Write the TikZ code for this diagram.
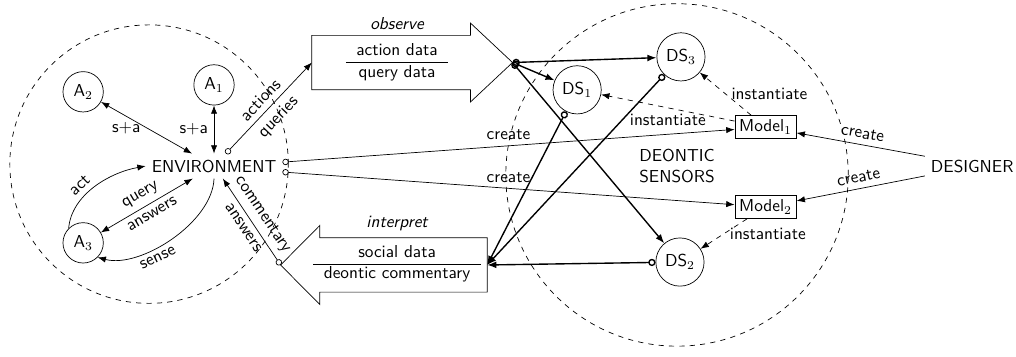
\documentclass[tikz,border=0pt]{standalone}
\usetikzlibrary{arrows.meta}
\renewcommand{\familydefault}{\sfdefault}

\begin{document}
\begin{tikzpicture}[
	agent/.style = {draw, circle, minimum size=0.82cm, inner sep=0pt},
	sensor/.style = {draw, circle, minimum size=0.98cm, inner sep=0pt},
	model/.style = {draw, rectangle, inner sep=2.5pt},
	area/.style = {dashed},
	flow/.style = {-{Latex}},
	both/.style = {{Latex}-{Latex}},
	port/.style = {{Circle[open]}-{Latex}},
	bigarrow/.style = {minimum width=#1, minimum height=1.09cm, inner sep=0pt}]

	\useasboundingbox (0,0) rectangle (20.65,7.236);

	\def \head {0.25} % how far the arrow heads stick out of the box

	% the two regions
	\draw[area] (3.03,3.90) circle (2.83cm);
	\draw[area] (13.76,3.68) circle (3.48cm);

	% agents and their environment
	\node (env) at (4.35,3.86) {ENVIRONMENT};
	\node[agent] (a1) at (4.35,5.51) {A$_1$};
	\node[agent] (a2) at (1.69,5.37) {A$_2$};
	\node[agent] (a3) at (1.69,2.30) {A$_3$};

	\draw[both] (a1) -- node[left] {s+a} (env);
	\draw[both] (a2) -- node[left] {s+a} (env);
	\draw[both] (a3) -- node[sloped, above] {query} node[sloped, below] {answers} (env);
	\draw[flow] (a3.135) to[out=85, in=190, looseness=0.9] node[pos=0.4, sloped, above] {act} (env.west);
	\draw[flow] (env.south) to[out=-92, in=-15, looseness=0.8] node[pos=0.62, sloped, below] {sense} (a3.-45);

	% observe
	\node[bigarrow=3.21cm] (obsbox) at (7.95,5.965) {};
	\coordinate (obstip) at ([xshift=0.855cm]obsbox.east);
	\draw (obsbox.north west) -- (obsbox.north east) -- ++(0,\head) -- (obstip)
		-- ([yshift=-\head cm]obsbox.south east) -- (obsbox.south east) -- (obsbox.south west) -- cycle;
	\node (obstext) at (8.07,5.97) {\begin{tabular}{c} action data\\ \hline query data\end{tabular}};
	\node[font=\itshape] (obslabel) at (8.07,6.75) {observe};

	% interpret
	\node[bigarrow=3.39cm] (intbox) at (8.20,1.85) {};
	\coordinate (inttip) at ([xshift=-0.795cm]intbox.west);
	\draw (intbox.north east) -- (intbox.north west) -- ++(0,\head) -- (inttip)
		-- ([yshift=-\head cm]intbox.south west) -- (intbox.south west) -- (intbox.south east) -- cycle;
	\node (inttext) at (8.07,1.87) {\begin{tabular}{c} social data\\ \hline deontic commentary\end{tabular}};
	\node[font=\itshape] (intlabel) at (8.07,2.70) {interpret};

	\draw[port] ([xshift=0.24cm]env.north) -- node[sloped, above] {actions} node[sloped, below] {queries} (obsbox.west);
	\draw[port] (inttip) -- node[sloped, above] {commentary} node[sloped, below] {answers} ([xshift=0.18cm]env.south);

	% deontic sensors and their models
	\node[sensor] (ds1) at (11.73,5.41) {DS$_1$};
	\node[sensor] (ds2) at (13.82,1.91) {DS$_2$};
	\node[sensor] (ds3) at (13.84,6.08) {DS$_3$};
	\node[model] (model1) at (15.56,4.65) {Model$_1$};
	\node[model] (model2) at (15.56,3.03) {Model$_2$};
	\node[align=center] (sensors) at (13.76,3.86) {DEONTIC\\SENSORS};
	\node (designer) at (19.76,3.86) {DESIGNER};

	\foreach \s in {1,2,3}
	{
		\draw[thick, {Circle[open,scale=0.85]}-{Latex[scale=0.8]}] (obstip) -- (ds\s);
		\draw[thick, {Circle[open,scale=0.85]}-{Latex[scale=0.8]}] (ds\s) -- (intbox.east);
	}

	\draw[area, flow] (model1) -- node[below] {instantiate} (ds1);
	\draw[area, flow] (model1) -- node[right] {instantiate} (ds3);
	\draw[area, flow] (model2) -- node[right] {instantiate} (ds2);

	\draw[port] ([yshift=0.08cm]env.east) -- node[above] {create} (model1);
	\draw[port] ([yshift=-0.12cm]env.east) -- node[above] {create} (model2);
	\draw[flow] ([yshift=0.2cm]designer.west) -- node[sloped, above] {create} (model1);
	\draw[flow] ([yshift=-0.2cm]designer.west) -- node[sloped, above] {create} (model2);
\end{tikzpicture}
\end{document}
